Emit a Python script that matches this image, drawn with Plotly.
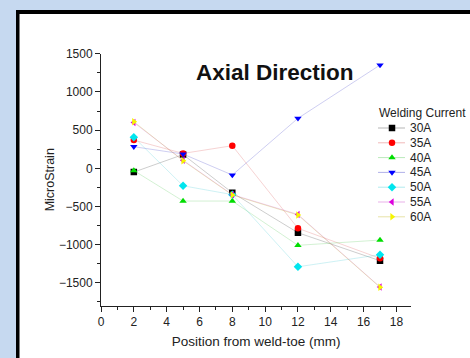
import plotly.graph_objects as go

positions = [2, 5, 8, 12, 17]
series_names = ["30A", "35A", "40A", "45A", "50A", "55A", "60A"]
v30 = [-50, 180, -320, -844, -1211]
v35 = [370, 195, 296, -786, -1180]
v40 = [-30, -429, -429, -1009, -940]
v45 = [283, 187, -88, 655, 1353]
v50 = [406, -229, -345, -1290, -1132]
v55 = [600, 105, -345, -605, -1555]
v60 = [610, 99, -350, -612, -1559]
values = [v30, v35, v40, v45, v50, v55, v60]
legend_title = "Welding Current"

colors = ["#000000", "#ff0000", "#00dd00", "#0000ff", "#00e5ee", "#dd00dd", "#f5f500"]
line_colors = ["rgba(90,90,90,0.3)", "rgba(220,80,80,0.25)", "rgba(80,200,80,0.25)",
               "rgba(60,60,200,0.25)", "rgba(60,200,210,0.25)", "rgba(200,60,200,0.25)",
               "rgba(200,190,60,0.3)"]
legend_line_colors = ["rgba(90,90,90,0.45)", "rgba(220,80,80,0.4)", "rgba(80,200,80,0.4)",
                      "rgba(60,60,200,0.4)", "rgba(60,200,210,0.4)", "rgba(200,60,200,0.4)",
                      "rgba(200,190,60,0.45)"]
symbols = ["square", "circle", "triangle-up", "triangle-down", "diamond", "triangle-left", "triangle-right"]

W, H = 470, 358

def fx(p):  # pixel x -> paper
    return p / W

def fy(p):  # pixel y -> paper
    return 1 - p / H

fig = go.Figure()
for name, vals, c, lc, s in zip(series_names, values, colors, line_colors, symbols):
    fig.add_trace(go.Scatter(
        x=positions, y=vals, name=name, mode="lines+markers",
        line=dict(color=lc, width=1),
        marker=dict(symbol=s, color=c, size=6.5, line=dict(width=0)),
        xaxis="x", yaxis="y", showlegend=False,
    ))

# manual legend drawn on a hidden pixel-scaled axis pair
leg_x0, leg_x1, leg_xm, leg_text_x = 378, 405, 392, 408
leg_y0, leg_dy = 128, 14.8
annotations = []
for i, (name, c, llc, s) in enumerate(zip(series_names, colors, legend_line_colors, symbols)):
    yy = leg_y0 + i * leg_dy
    fig.add_trace(go.Scatter(
        x=[leg_x0, leg_x1], y=[yy, yy], mode="lines",
        line=dict(color=llc, width=1),
        xaxis="x2", yaxis="y2", showlegend=False, hoverinfo="skip",
    ))
    fig.add_trace(go.Scatter(
        x=[leg_xm], y=[yy], mode="markers",
        marker=dict(symbol=s, color=c, size=6.5, line=dict(width=0)),
        xaxis="x2", yaxis="y2", showlegend=False, hoverinfo="skip",
    ))
    annotations.append(dict(
        text=name, xref="paper", yref="paper", x=fx(leg_text_x), y=fy(yy),
        xanchor="left", yanchor="middle", showarrow=False,
        font=dict(size=12, color="#222"),
    ))
annotations.append(dict(
    text=legend_title, xref="paper", yref="paper", x=fx(377), y=fy(113),
    xanchor="left", yanchor="middle", showarrow=False,
    font=dict(size=12, color="#222"),
))
annotations.append(dict(
    text="<b>Axial Direction</b>", xref="paper", yref="paper",
    x=fx(274.5), y=fy(72), xanchor="center", yanchor="middle",
    showarrow=False, font=dict(size=22.5, color="#111"),
))

blue = "#c6d9f0"
shapes = [
    dict(type="rect", xref="paper", yref="paper", layer="below",
         x0=0, x1=1, y0=fy(10), y1=1, fillcolor=blue, line=dict(width=0)),
    dict(type="rect", xref="paper", yref="paper", layer="below",
         x0=0, x1=fx(16), y0=0, y1=1, fillcolor=blue, line=dict(width=0)),
    dict(type="rect", xref="paper", yref="paper", layer="below",
         x0=fx(16), x1=1, y0=fy(14), y1=fy(10), fillcolor="black", line=dict(width=0)),
    dict(type="rect", xref="paper", yref="paper", layer="below",
         x0=fx(16), x1=fx(19.5), y0=0, y1=fy(10), fillcolor="black", line=dict(width=0)),
]

fig.update_layout(
    width=W, height=H,
    margin=dict(l=0, r=0, t=0, b=0),
    paper_bgcolor="white",
    plot_bgcolor="rgba(0,0,0,0)",
    font=dict(family="Liberation Sans, Arial, sans-serif", size=12, color="#222"),
    shapes=shapes,
    showlegend=False,
    annotations=annotations,
    xaxis=dict(
        domain=[fx(101), fx(411.2)], anchor="y", automargin=False,
        range=[0, 18.9], dtick=2, tick0=0, showgrid=False, zeroline=False,
        showline=True, linecolor="#222", linewidth=1,
        ticks="outside", ticklen=5, tickcolor="#222",
        minor=dict(dtick=1, ticks="outside", ticklen=3, tickcolor="#222"),
        title=dict(text="Position from weld-toe (mm)", font=dict(size=13.5), standoff=8),
        tickfont=dict(size=12),
    ),
    yaxis=dict(
        domain=[fy(305.7), fy(53.8)], anchor="x", automargin=False,
        range=[-1800, 1500], dtick=500, tick0=0, showgrid=False, zeroline=False,
        showline=True, linecolor="#222", linewidth=1,
        ticks="outside", ticklen=5, tickcolor="#222",
        minor=dict(dtick=250, ticks="outside", ticklen=3, tickcolor="#222"),
        title=dict(text="MicroStrain", font=dict(size=12.5), standoff=1),
        tickfont=dict(size=12),
    ),
    xaxis2=dict(domain=[0, 1], anchor="y2", range=[0, W], visible=False, fixedrange=True),
    yaxis2=dict(domain=[0, 1], anchor="x2", range=[H, 0], visible=False, fixedrange=True),
)

fig.write_html(
    "out.html",
    config={"displayModeBar": False, "staticPlot": True},
    post_script="document.body.style.margin='0';document.body.style.overflow='hidden';",
)
